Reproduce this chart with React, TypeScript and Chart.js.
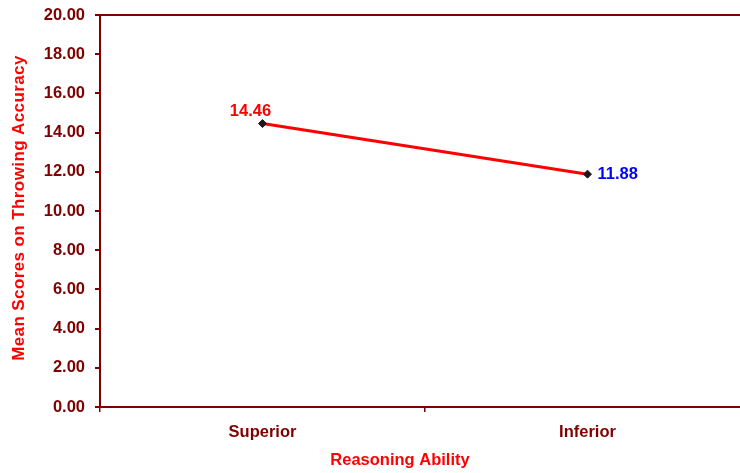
import React, { useEffect, useRef } from "react";
import { Chart, registerables } from "chart.js";

Chart.register(...registerables);

const categories = ["Superior", "Inferior"];
const meanScores = [14.46, 11.88];
const valueLabelColors = ["#FF0000", "#0000FF"];
const yMin = 0;
const yMax = 20;
const yStep = 2;
const xTitle = "Reasoning Ability";
const yTitle = "Mean Scores on Throwing Accuracy";

const AXIS_COLOR = "#800000";
const FONT = "'Liberation Sans', Arial, Helvetica, sans-serif";

export default function App() {
  const ref = useRef<HTMLCanvasElement | null>(null);

  useEffect(() => {
    if (!ref.current) return;

    const decorPlugin = {
      id: "decor",
      beforeDatasetsDraw(chart: any) {
        const { ctx, chartArea } = chart;
        ctx.save();
        ctx.strokeStyle = AXIS_COLOR;
        ctx.lineWidth = 2;
        ctx.beginPath();
        ctx.moveTo(chartArea.left, chartArea.top);
        ctx.lineTo(chartArea.right, chartArea.top);
        ctx.stroke();
        ctx.restore();
      },
      afterDraw(chart: any) {
        const { ctx } = chart;
        const meta = chart.getDatasetMeta(0);
        ctx.save();
        ctx.font = `bold 16.5px ${FONT}`;
        meta.data.forEach((pt: any, i: number) => {
          const txt = meanScores[i].toFixed(2);
          ctx.fillStyle = valueLabelColors[i];
          if (i === 0) {
            ctx.textAlign = "center";
            ctx.textBaseline = "alphabetic";
            ctx.fillText(txt, pt.x - 12, pt.y - 8);
          } else {
            ctx.textAlign = "left";
            ctx.textBaseline = "middle";
            ctx.fillText(txt, pt.x + 10, pt.y + 0.5);
          }
        });
        ctx.fillStyle = "#FF0000";
        ctx.textAlign = "center";
        ctx.textBaseline = "middle";
        ctx.font = `bold 16.5px ${FONT}`;
        ctx.fillText(xTitle, 400, 460);
        ctx.save();
        ctx.translate(19, 208);
        ctx.rotate(-Math.PI / 2);
        ctx.font = `bold 17px ${FONT}`;
        (ctx as any).letterSpacing = "0.4px";
        ctx.fillText(yTitle, 0, 0);
        ctx.restore();
        ctx.restore();
      },
    };

    const chart = new Chart(ref.current, {
      type: "line",
      data: {
        labels: categories,
        datasets: [
          {
            data: meanScores,
            borderColor: "#FF0000",
            borderWidth: 3,
            pointStyle: "rectRot",
            pointRadius: 4,
            pointBackgroundColor: "#1a1a1a",
            pointBorderColor: "#1a1a1a",
            pointBorderWidth: 1,
            tension: 0,
          },
        ],
      },
      options: {
        responsive: false,
        maintainAspectRatio: false,
        animation: false,
        layout: { padding: { left: 0, top: 15, right: 10, bottom: 0 } },
        plugins: {
          legend: { display: false },
          tooltip: { enabled: false },
        },
        scales: {
          x: {
            type: "category",
            offset: true,
            grid: {
              offset: true,
              display: true,
              drawOnChartArea: false,
              drawTicks: true,
              tickLength: 5,
              color: AXIS_COLOR,
              lineWidth: 1.5,
            },
            border: { display: true, color: AXIS_COLOR, width: 2 },
            ticks: {
              color: AXIS_COLOR,
              font: { family: FONT, size: 16.5, weight: "bold" },
              padding: 11,
              maxRotation: 0,
            },
            afterFit(scale: any) {
              scale.height = 66;
              scale.paddingLeft = 0;
              scale.paddingRight = 0;
            },
          },
          y: {
            min: yMin,
            max: yMax,
            ticks: {
              stepSize: yStep,
              color: AXIS_COLOR,
              font: { family: FONT, size: 16.5, weight: "bold" },
              padding: 10,
              callback: (v: any) => Number(v).toFixed(2),
            },
            grid: {
              display: true,
              drawOnChartArea: false,
              drawTicks: true,
              tickLength: 5,
              color: AXIS_COLOR,
              lineWidth: 2,
            },
            border: { display: true, color: AXIS_COLOR, width: 2 },
            afterFit(scale: any) {
              scale.width = 100;
              scale.paddingTop = 0;
              scale.paddingBottom = 0;
            },
          },
        },
      },
      plugins: [decorPlugin],
    });

    return () => chart.destroy();
  }, []);

  return (
    <div
      style={{
        position: "absolute",
        left: 0,
        top: 0,
        width: 740,
        height: 473,
        overflow: "hidden",
        background: "#fff",
      }}
    >
      <canvas ref={ref} width={760} height={473} style={{ width: 760, height: 473, display: "block" }} />
    </div>
  );
}
